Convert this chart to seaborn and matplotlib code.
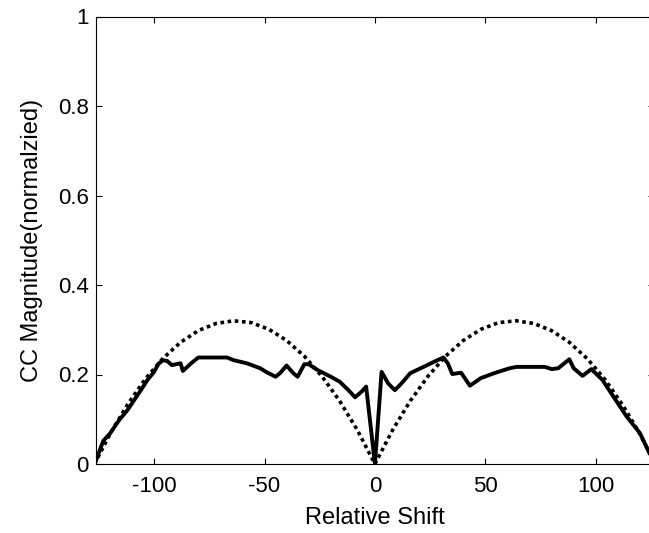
import matplotlib
matplotlib.use("Agg")
import matplotlib.pyplot as plt
import seaborn as sns

# Cross-correlation magnitude (solid) against lag
shift_measured = [-127, -126, -123, -120, -116, -112, -109, -106, -103, -100,
                  -98, -96, -94, -92, -90, -88, -87, -83, -80, -67,
                  -64, -58, -52, -49, -45, -43, -40, -37, -35, -32,
                  -30, -26, -20, -16, -12, -9, -6, -4, 0, 3,
                  6, 9, 12, 16, 22, 27, 31, 33, 35, 39,
                  43, 48, 54, 61, 64, 77, 80, 83, 88, 90,
                  94, 98, 103, 109, 114, 120, 124, 127]
cc_measured = [0.000, 0.012, 0.052, 0.068, 0.097, 0.121, 0.143, 0.165, 0.188, 0.206,
               0.224, 0.232, 0.230, 0.221, 0.223, 0.225, 0.208, 0.226, 0.238, 0.238,
               0.232, 0.225, 0.214, 0.205, 0.195, 0.203, 0.220, 0.203, 0.195, 0.223,
               0.223, 0.210, 0.195, 0.184, 0.165, 0.149, 0.162, 0.173, 0.000, 0.206,
               0.180, 0.165, 0.180, 0.203, 0.217, 0.229, 0.238, 0.225, 0.201, 0.204,
               0.175, 0.192, 0.203, 0.214, 0.217, 0.217, 0.212, 0.214, 0.234, 0.214,
               0.197, 0.212, 0.188, 0.143, 0.106, 0.069, 0.027, 0.000]

# Reference envelope (dotted)
shift_envelope = [-127, -120, -112, -104, -96, -88, -80, -72, -64, -56, -48, -40, -32, -24, -16, -8,
                  0, 8, 16, 24, 32, 40, 48, 56, 64, 72, 80, 88, 96, 104, 112, 120, 127]
cc_envelope = [0.000, 0.067, 0.133, 0.190, 0.236, 0.272, 0.298, 0.314, 0.320, 0.316, 0.301, 0.276,
               0.241, 0.196, 0.141, 0.076, 0.000, 0.076, 0.141, 0.196, 0.241, 0.276, 0.301, 0.316,
               0.320, 0.314, 0.298, 0.272, 0.236, 0.190, 0.133, 0.067, 0.000]

x_ticks = [-100, -50, 0, 50, 100]
y_ticks = [0, 0.2, 0.4, 0.6, 0.8, 1]
y_tick_labels = ["0", "0.2", "0.4", "0.6", "0.8", "1"]

sns.set_style("ticks")
plt.rcParams["font.family"] = ["Liberation Sans", "DejaVu Sans"]
plt.rcParams.update({
    "text.color": "black",
    "axes.labelcolor": "black",
    "xtick.color": "black",
    "ytick.color": "black",
    "axes.edgecolor": "black",
})

fig = plt.figure(figsize=(6.49, 5.33), dpi=100)
ax = fig.add_axes([95.6 / 649, 69 / 533, 558.7 / 649, 447.5 / 533])

sns.lineplot(x=shift_envelope, y=cc_envelope, ax=ax, color="black",
             linewidth=2.6, linestyle=(0, (1, 1)), errorbar=None)
sns.lineplot(x=shift_measured, y=cc_measured, ax=ax, color="black",
             linewidth=2.8, errorbar=None)

ax.set_xlim(-126.5, 126.5)
ax.set_ylim(0, 1)
ax.set_xticks(x_ticks)
ax.set_xticklabels([str(t) for t in x_ticks])
ax.set_yticks(y_ticks)
ax.set_yticklabels(y_tick_labels)

for side in ["left", "right", "top", "bottom"]:
    ax.spines[side].set_visible(True)
    ax.spines[side].set_linewidth(0.8)
    ax.spines[side].set_color("black")

ax.tick_params(direction="in", length=4.5, width=0.8, top=True, right=True,
               labelsize=16, colors="black")
ax.tick_params(axis="x", pad=9)
ax.tick_params(axis="y", pad=5)

ax.set_xlabel("Relative Shift", fontsize=17, labelpad=7)
ax.set_ylabel("CC Magnitude(normalzied)", fontsize=17, labelpad=11)

fig.savefig("out.png", dpi=100)
